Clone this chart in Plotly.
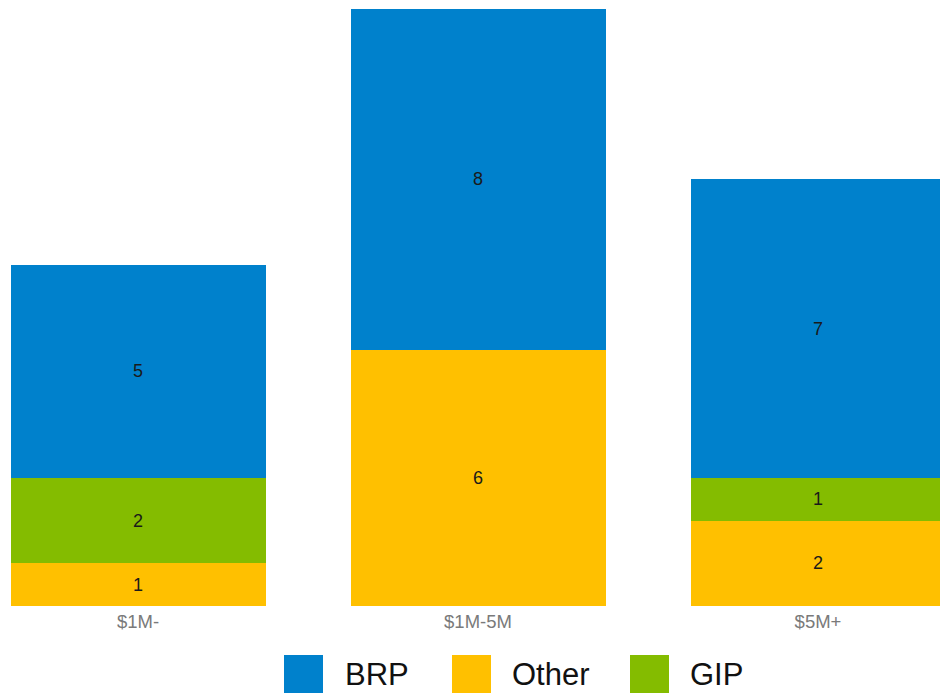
import plotly.graph_objects as go

categories = ["$1M-", "$1M-5M", "$5M+"]
other_vals = [1, 6, 2]
gip_vals = [2, None, 1]
brp_vals = [5, 8, 7]

legend_names = ["BRP", "Other", "GIP"]

COL_BRP = "#0081CC"
COL_OTHER = "#FFC000"
COL_GIP = "#84BC00"
FONT = "Liberation Sans, Arial, sans-serif"

W, H = 940, 693
PLOT_BOTTOM = 606  # px

fig = go.Figure()
for name, vals, col in [("Other", other_vals, COL_OTHER),
                        ("GIP", gip_vals, COL_GIP),
                        ("BRP", brp_vals, COL_BRP)]:
    fig.add_trace(go.Bar(
        x=categories, y=vals, name=name,
        marker=dict(color=col, line=dict(width=0)),
        texttemplate="%{y}", textposition="inside",
        insidetextanchor="middle", textangle=0,
        constraintext="none",
        textfont=dict(size=18, color="#1a1a1a", family=FONT),
        showlegend=False,
    ))

# axis geometry
center0, spacing = 138.0, 340.0
x0 = (0 - center0) / spacing
x1 = (W - center0) / spacing
px_per_unit = 42.67
ytop = PLOT_BOTTOM / px_per_unit

fig.update_layout(
    width=W, height=H,
    margin=dict(l=0, r=0, t=0, b=H - PLOT_BOTTOM, pad=0),
    barmode="stack", bargap=0.25,
    plot_bgcolor="white", paper_bgcolor="white",
    font=dict(family=FONT),
    xaxis=dict(range=[x0, x1], showgrid=False, zeroline=False, showline=False,
               ticks="", tickfont=dict(size=18.5, color="#7a7a7a", family=FONT),
               ticklabelstandoff=2, fixedrange=True),
    yaxis=dict(range=[0, ytop], visible=False, showgrid=False, zeroline=False,
               fixedrange=True),
    showlegend=False,
)

# custom legend (large squares as in reference)
def px_to_paper_x(px):
    return px / W

def px_to_paper_y(py):
    return (PLOT_BOTTOM - py) / PLOT_BOTTOM

legend_items = [("BRP", COL_BRP, 284, 343), ("Other", COL_OTHER, 452, 510), ("GIP", COL_GIP, 630, 688)]
for name, col, sx, tx in legend_items:
    fig.add_shape(type="rect", xref="paper", yref="paper",
                  x0=px_to_paper_x(sx), x1=px_to_paper_x(sx + 39),
                  y0=px_to_paper_y(655), y1=px_to_paper_y(700),
                  fillcolor=col, line=dict(width=0), layer="above")
    fig.add_annotation(xref="paper", yref="paper",
                       x=px_to_paper_x(tx), y=px_to_paper_y(674),
                       xanchor="left", yanchor="middle", showarrow=False,
                       text=name, font=dict(size=31, color="#111111", family=FONT))

fig.write_html("out.html", config={"displayModeBar": False},
               post_script="document.body.style.margin='0';document.body.style.overflow='hidden';")
